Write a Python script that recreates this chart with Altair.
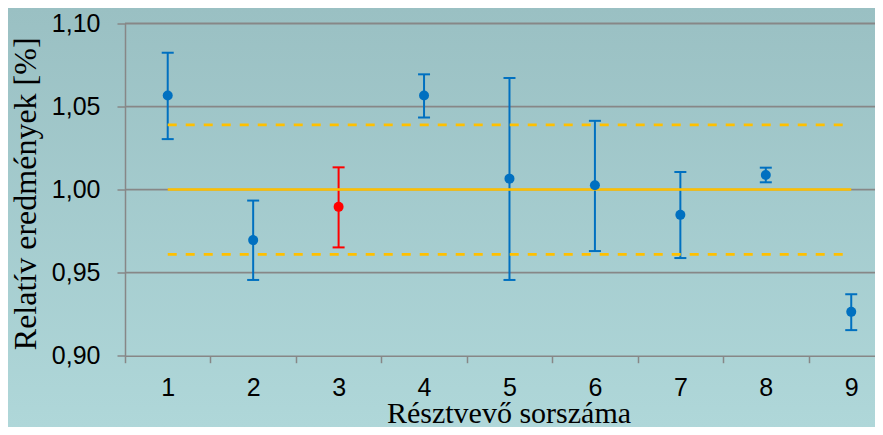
import altair as alt
import pandas as pd

# ---- data ----
participants = [1, 2, 3, 4, 5, 6, 7, 8, 9]
results = [1.0566, 0.9696, 0.9896, 1.0566, 1.0066, 1.0026, 0.9848, 1.0088, 0.9264]
upper = [1.0824, 0.9934, 1.0134, 1.0694, 1.0672, 1.0414, 1.0106, 1.0132, 0.9370]
lower = [1.0304, 0.9456, 0.9652, 1.0434, 0.9456, 0.9630, 0.9588, 1.0044, 0.9154]
point_colors = ["#0070C0", "#0070C0", "#FF0000", "#0070C0", "#0070C0",
                "#0070C0", "#0070C0", "#0070C0", "#0070C0"]
y_ticks = [0.90, 0.95, 1.00, 1.05, 1.10]
ref_levels = [1.000, 1.039, 0.961]
ref_dashed = [False, True, True]

df = pd.DataFrame({"participant": participants, "result": results,
                   "upper": upper, "lower": lower, "c": point_colors})
ref_df = pd.DataFrame({"level": ref_levels, "dashed": ref_dashed,
                       "start": participants[0], "end": participants[-1]})
grid_df = pd.DataFrame({"v": y_ticks[1:]})
bg_df = pd.DataFrame({"k": [0]})
boundaries = [p - 0.5 for p in participants]  # category edges (axis ticks)

PAD_L, PAD_T = 117, 15.5
SVG_W, SVG_H = 867, 419
W, H = SVG_W - PAD_L, 332.2
STEP = 85.44  # category width in the reference; last one runs past the right edge

x_scale = alt.Scale(domain=[0.5, 0.5 + W / STEP], nice=False, zero=False)
y_scale = alt.Scale(domain=[0.9, 1.1], nice=False, zero=False)

x_axis = alt.Axis(
    title="Résztvevő sorszáma", values=boundaries, labelAngle=0,
    labelExpr="format(datum.value + 0.5, 'd')", labelOffset=STEP / 2,
    labelFont="Liberation Sans", labelFontSize=25, labelColor="#000000", labelPadding=13,
    labelFlush=False, labelOverlap=False, labelBound=False,
    tickSize=7, tickColor="#878787", tickWidth=1.5,
    domainColor="#878787", domainWidth=1.5, grid=False,
    titleFont="Liberation Serif", titleFontSize=30, titleFontWeight="normal",
    titleColor="#000000", titleX=383.5, titleY=66.3, titleAlign="center",
    titleBaseline="alphabetic", zindex=1,
)
y_axis = alt.Axis(
    title="Relatív eredmények [%]", values=y_ticks,
    labelExpr="replace(format(datum.value, '.2f'), '.', ',')",
    labelFont="Liberation Sans", labelFontSize=25, labelColor="#000000", labelPadding=17,
    tickSize=8, tickColor="#878787", tickWidth=1.5,
    domainColor="#878787", domainWidth=1.5, grid=False,
    titleFont="Liberation Serif", titleFontSize=32, titleFontWeight="normal",
    titleColor="#000000", titleAngle=270, titleX=-90, titleY=169.8,
    titleAlign="center", titleBaseline="alphabetic", zindex=1,
)

X = alt.X("participant:Q", scale=x_scale, axis=x_axis)

background = alt.Chart(bg_df).mark_rect(
    fill=alt.LinearGradient(
        gradient="linear", x1=0, x2=0, y1=0, y2=1,
        stops=[alt.GradientStop(color="#9AC0C3", offset=0),
               alt.GradientStop(color="#AFD7D9", offset=1)]),
    stroke=None,
).encode(
    x=alt.value(-PAD_L), x2=alt.value(SVG_W - PAD_L),
    y=alt.value(-PAD_T), y2=alt.value(SVG_H - PAD_T),
)

grid = alt.Chart(grid_df).mark_rule(color="#878787", strokeWidth=1.8).encode(
    y=alt.Y("v:Q", scale=y_scale, axis=y_axis)
)

bars = alt.Chart(df).mark_rule(strokeWidth=2).encode(
    x=X,
    y=alt.Y("lower:Q", scale=y_scale, axis=y_axis),
    y2="upper:Q",
    color=alt.Color("c:N", scale=None),
)
cap_hi = alt.Chart(df).mark_tick(size=12, thickness=2, opacity=1, orient="horizontal").encode(
    x=X, y=alt.Y("upper:Q", scale=y_scale, axis=y_axis),
    color=alt.Color("c:N", scale=None),
)
cap_lo = alt.Chart(df).mark_tick(size=12, thickness=2, opacity=1, orient="horizontal").encode(
    x=X, y=alt.Y("lower:Q", scale=y_scale, axis=y_axis),
    color=alt.Color("c:N", scale=None),
)

ref_solid = alt.Chart(ref_df).transform_filter("!datum.dashed").mark_rule(
    color="#FFC000", strokeWidth=2.5
).encode(
    x=alt.X("start:Q", scale=x_scale, axis=x_axis),
    x2="end:Q",
    y=alt.Y("level:Q", scale=y_scale, axis=y_axis),
)
ref_dash = alt.Chart(ref_df).transform_filter("datum.dashed").mark_rule(
    color="#FFC000", strokeWidth=2.8, strokeDash=[9, 9]
).encode(
    x=alt.X("start:Q", scale=x_scale, axis=x_axis),
    x2="end:Q",
    y=alt.Y("level:Q", scale=y_scale, axis=y_axis),
)

points = alt.Chart(df).mark_circle(size=100, opacity=1).encode(
    x=X, y=alt.Y("result:Q", scale=y_scale, axis=y_axis),
    color=alt.Color("c:N", scale=None),
)

chart = alt.layer(
    background, grid, bars, cap_hi, cap_lo, ref_solid, ref_dash, points
).properties(
    width=W, height=H,
    autosize=alt.AutoSizeParams(type="none"),
    padding={"left": PAD_L, "top": PAD_T, "right": SVG_W - PAD_L - W,
             "bottom": SVG_H - PAD_T - H},
    background="#A5CDD0",
).configure_view(stroke=None)

chart.save("out.html", embed_options={"renderer": "svg", "actions": False})
